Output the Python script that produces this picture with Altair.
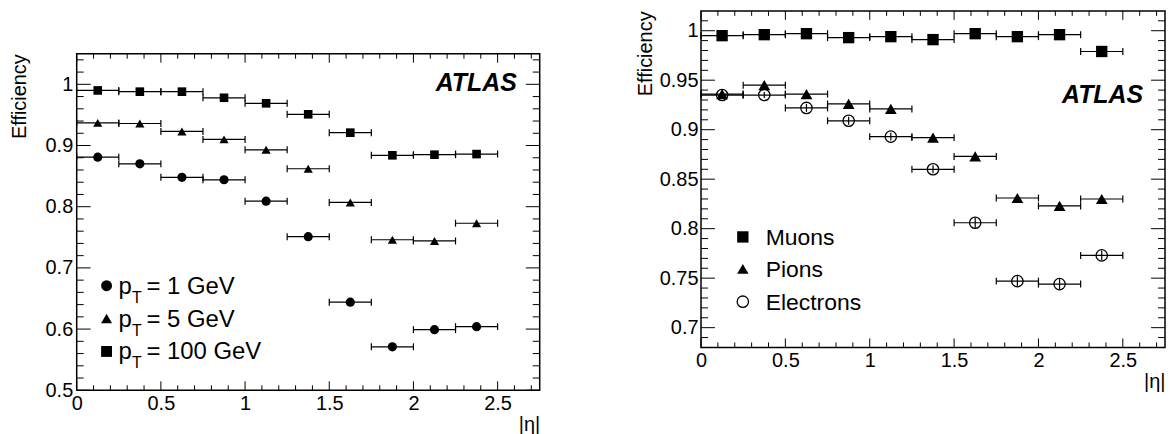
import altair as alt
import pandas as pd

# ---------------- data ----------------
ETA_LO = [0.0, 0.25, 0.5, 0.75, 1.0, 1.25, 1.5, 1.75, 2.0, 2.25]
ETA_HI = [0.25, 0.5, 0.75, 1.0, 1.25, 1.5, 1.75, 2.0, 2.25, 2.5]

# left panel: efficiency vs |eta| for several pT
EFF_PT1 = [0.881, 0.870, 0.848, 0.844, 0.809, 0.751, 0.644, 0.571, 0.599, 0.604]
EFF_PT5 = [0.937, 0.936, 0.923, 0.910, 0.893, 0.862, 0.807, 0.746, 0.744, 0.773]
EFF_PT100 = [0.990, 0.988, 0.988, 0.978, 0.969, 0.951, 0.921, 0.884, 0.885, 0.886]

# right panel: efficiency vs |eta| for particle species
EFF_MUONS = [0.995, 0.996, 0.997, 0.993, 0.994, 0.991, 0.997, 0.994, 0.996, 0.979]
EFF_PIONS = [0.936, 0.945, 0.936, 0.926, 0.921, 0.892, 0.873, 0.831, 0.823, 0.830]
EFF_ELECTRONS = [0.935, 0.935, 0.922, 0.909, 0.893, 0.860, 0.806, 0.747, 0.744, 0.773]
ERR_ELECTRONS = [0.003, 0.003, 0.004, 0.004, 0.004, 0.004, 0.005, 0.005, 0.005, 0.005]

LEFT_LABELS = ["1 GeV", "5 GeV", "100 GeV"]
RIGHT_LABELS = ["Muons", "Pions", "Electrons"]

X_DOMAIN = [0, 2.75]
X_LABELS = [0, 0.5, 1, 1.5, 2, 2.5]
X_MINOR = [0.1, 0.2, 0.3, 0.4, 0.6, 0.7, 0.8, 0.9, 1.1, 1.2, 1.3, 1.4, 1.6, 1.7, 1.8, 1.9,
           2.1, 2.2, 2.3, 2.4, 2.6, 2.7]

L_Y_DOMAIN = [0.5, 1.05]
L_Y_LABELS = [0.5, 0.6, 0.7, 0.8, 0.9, 1.0]
L_Y_MINOR = [0.52, 0.54, 0.56, 0.58, 0.62, 0.64, 0.66, 0.68, 0.72, 0.74, 0.76, 0.78,
             0.82, 0.84, 0.86, 0.88, 0.92, 0.94, 0.96, 0.98, 1.02, 1.04]

R_Y_DOMAIN = [0.68, 1.02]
R_Y_LABELS = [0.7, 0.75, 0.8, 0.85, 0.9, 0.95, 1.0]
R_Y_MINOR = [0.69, 0.71, 0.72, 0.73, 0.74, 0.76, 0.77, 0.78, 0.79, 0.81, 0.82, 0.83, 0.84,
             0.86, 0.87, 0.88, 0.89, 0.91, 0.92, 0.93, 0.94, 0.96, 0.97, 0.98, 0.99, 1.01]

FONT = "Liberation Sans"
W_L, W_R, H = 465, 466, 338


def series_df(vals, errs=None):
    if errs is None:
        errs = [0.0] * len(vals)
    return pd.DataFrame({
        "lo": ETA_LO, "hi": ETA_HI,
        "eta": [(a + b) / 2 for a, b in zip(ETA_LO, ETA_HI)],
        "eff": vals,
        "elo": [v - e for v, e in zip(vals, errs)],
        "ehi": [v + e for v, e in zip(vals, errs)],
    })


def make_panel(W, ydom, ylabels, yminor, series, title_pad, label_pad):
    xs = alt.Scale(domain=X_DOMAIN, nice=False, zero=False)
    ys = alt.Scale(domain=ydom, nice=False, zero=False)
    x_axis = alt.Axis(values=X_LABELS, format="~g", ticks=False, tickSize=0, domain=False,
                      grid=False, labelFont=FONT, labelFontSize=20, labelColor="black",
                      labelPadding=3, labelFlush=False, labelOverlap=False,
                      title="|η|", titleFont=FONT, titleFontSize=20, titleFontWeight="normal",
                      titleColor="black", titleAnchor="end", titlePadding=1)
    y_axis = alt.Axis(values=ylabels, format="~g", ticks=False, tickSize=0, domain=False,
                      grid=False, labelFont=FONT, labelFontSize=20, labelColor="black",
                      labelPadding=label_pad, labelFlush=False, labelOverlap=False,
                      title="Efficiency", titleFont=FONT, titleFontSize=20,
                      titleFontWeight="normal", titleColor="black", titleAnchor="end",
                      titlePadding=title_pad)

    def X(f):
        return alt.X(f + ":Q", scale=xs, axis=x_axis)

    def Y(f):
        return alt.Y(f + ":Q", scale=ys, axis=y_axis)

    layers = []
    for s in series:
        df = series_df(s["vals"], s.get("errs"))
        base = alt.Chart(df)
        layers.append(base.mark_rule(color="black", strokeWidth=1.2).encode(
            x=X("lo"), x2="hi:Q", y=Y("eff")))
        for f in ["lo", "hi"]:
            layers.append(base.mark_rule(color="black", strokeWidth=1.2, yOffset=-3.5,
                                         y2Offset=3.5).encode(
                x=X(f), y=Y("eff"), y2="eff:Q"))
        if s.get("errs"):
            layers.append(base.mark_rule(color="black", strokeWidth=1.2).encode(
                x=X("eta"), y=Y("elo"), y2="ehi:Q"))
        layers.append(base.mark_point(shape=s["shape"], filled=s["filled"], size=s["size"],
                                      color="black", opacity=1, strokeWidth=1.3).encode(
            x=X("eta"), y=Y("eff")))

    # inward ticks on all four sides (ROOT style)
    def yticks(vals, length):
        d = alt.Chart(pd.DataFrame({"v": vals}))
        return [
            d.mark_rule(color="black", strokeWidth=1).encode(
                y=Y("v"), x=alt.value(0), x2=alt.value(length)),
            d.mark_rule(color="black", strokeWidth=1).encode(
                y=Y("v"), x=alt.value(W - length), x2=alt.value(W)),
        ]

    def xticks(vals, length):
        d = alt.Chart(pd.DataFrame({"v": vals}))
        return [
            d.mark_rule(color="black", strokeWidth=1).encode(
                x=X("v"), y=alt.value(H), y2=alt.value(H - length)),
            d.mark_rule(color="black", strokeWidth=1).encode(
                x=X("v"), y=alt.value(0), y2=alt.value(length)),
        ]

    layers += yticks(ylabels, 14) + yticks(yminor, 7)
    layers += xticks(X_LABELS, 9) + xticks(X_MINOR, 5)
    return layers


one = alt.Chart(pd.DataFrame({"a": [0]}))

# ---------------- left panel ----------------
left_series = [
    {"vals": EFF_PT1, "shape": "circle", "filled": True, "size": 85},
    {"vals": EFF_PT5, "shape": "triangle-up", "filled": True, "size": 85},
    {"vals": EFF_PT100, "shape": "square", "filled": True, "size": 75},
]
left_layers = make_panel(W_L, L_Y_DOMAIN, L_Y_LABELS, L_Y_MINOR, left_series, 16, 4)

shapes_l = ["circle", "triangle-up", "square"]
rows_l = [233, 266, 299]
for shp, yy, lab in zip(shapes_l, rows_l, LEFT_LABELS):
    left_layers.append(one.mark_point(shape=shp, filled=True, size=120, color="black",
                                      opacity=1).encode(x=alt.value(30), y=alt.value(yy)))
    left_layers.append(one.mark_text(text="p", font=FONT, fontSize=24, align="left",
                                     baseline="alphabetic", color="black").encode(
        x=alt.value(42), y=alt.value(yy + 8)))
    left_layers.append(one.mark_text(text="T", font=FONT, fontSize=16, align="left",
                                     baseline="alphabetic", color="black").encode(
        x=alt.value(55.5), y=alt.value(yy + 17)))
    left_layers.append(one.mark_text(text="= " + lab, font=FONT, fontSize=24, align="left",
                                     baseline="alphabetic", color="black").encode(
        x=alt.value(70), y=alt.value(yy + 8)))

left_layers.append(one.mark_text(text="ATLAS", font=FONT, fontSize=25, fontWeight="bold",
                                 fontStyle="italic", align="right", baseline="alphabetic",
                                 color="black").encode(x=alt.value(442), y=alt.value(37)))

left = alt.layer(*left_layers).properties(width=W_L, height=H)

# blank strip above the left panel so its frame sits lower than the right one
blank = one.mark_point(opacity=0, size=1).encode(x=alt.value(20), y=alt.value(20)).properties(
    width=W_L, height=40, view=alt.ViewConfig(stroke="transparent"))

left_col = alt.vconcat(blank, left, spacing=0)

# ---------------- right panel ----------------
right_series = [
    {"vals": EFF_MUONS, "shape": "square", "filled": True, "size": 130},
    {"vals": EFF_PIONS, "shape": "triangle-up", "filled": True, "size": 140},
    {"vals": EFF_ELECTRONS, "errs": ERR_ELECTRONS, "shape": "circle", "filled": False,
     "size": 130},
]
right_layers = make_panel(W_R, R_Y_DOMAIN, R_Y_LABELS, R_Y_MINOR, right_series, 4, 3)

shapes_r = [("square", True), ("triangle-up", True), ("circle", False)]
rows_r = [227, 259, 292]
for (shp, fil), yy, lab in zip(shapes_r, rows_r, RIGHT_LABELS):
    right_layers.append(one.mark_point(shape=shp, filled=fil, size=130, color="black",
                                       opacity=1, strokeWidth=1.3).encode(
        x=alt.value(42), y=alt.value(yy)))
    right_layers.append(one.mark_text(text=lab, font=FONT, fontSize=23, align="left",
                                      baseline="alphabetic", color="black").encode(
        x=alt.value(65), y=alt.value(yy + 8)))

right_layers.append(one.mark_text(text="ATLAS", font=FONT, fontSize=25, fontWeight="bold",
                                  fontStyle="italic", align="right", baseline="alphabetic",
                                  color="black").encode(x=alt.value(444), y=alt.value(92)))

right = alt.layer(*right_layers).properties(width=W_R, height=H)

chart = alt.hconcat(left_col, right, spacing=93).properties(
    padding={"left": 0, "top": 0, "right": 0, "bottom": 0}
).configure_view(stroke="black", strokeWidth=1.5)

chart.save("out.html", embed_options={"renderer": "svg", "actions": False})
